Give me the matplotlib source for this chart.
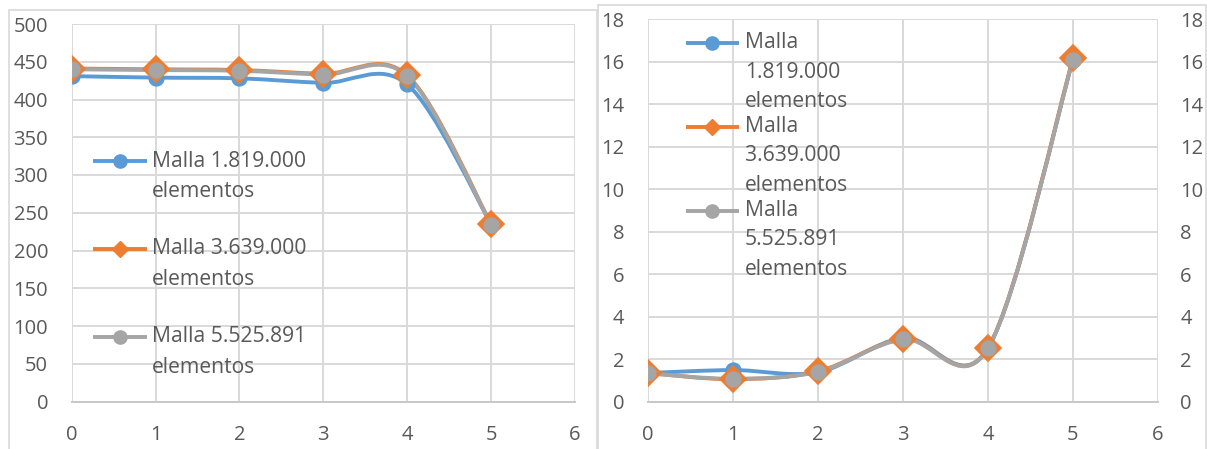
import numpy as np
import matplotlib.pyplot as plt
from matplotlib.path import Path
from matplotlib.patches import PathPatch, Rectangle

plt.rcParams['font.family'] = ['Open Sans', 'DejaVu Sans']

# data
x = [0, 1, 2, 3, 4, 5]

left_1819 = [431, 429, 428, 422, 420, 235]
left_3639 = [441, 440, 439, 434, 432, 235]
left_5525 = [440, 439, 438, 433, 431, 234]

right_1819 = [1.34, 1.48, 1.38, 3.00, 2.52, 16.10]
right_3639 = [1.34, 1.05, 1.42, 2.95, 2.52, 16.15]
right_5525 = [1.33, 1.07, 1.40, 2.93, 2.50, 16.10]

left_labels = [['Malla 1.819.000', 'elementos'],
               ['Malla 3.639.000', 'elementos'],
               ['Malla 5.525.891', 'elementos']]
right_labels = [['Malla', '1.819.000', 'elementos'],
                ['Malla', '3.639.000', 'elementos'],
                ['Malla', '5.525.891', 'elementos']]

colors = ['#5B9BD5', '#ED7D31', '#A5A5A5']
markers = ['o', 'D', 'o']
msize = [10.5, 13, 10.5]
leg_msize = [9.5, 8, 9.5]
txt = '#595959'
grid = '#D9D9D9'
fs = 14.5
leg_fs = 15.2


def smooth_path(xs, ys):
    # excel-like smoothed line: bezier segments with catmull-rom control points
    p = np.column_stack([xs, ys]).astype(float)
    pts = np.vstack([p[0], p, p[-1]])
    verts = [p[0]]
    codes = [Path.MOVETO]
    for i in range(len(p) - 1):
        p0, p1, p2, p3 = pts[i], pts[i + 1], pts[i + 2], pts[i + 3]
        verts += [p1 + (p2 - p0) / 6, p2 - (p3 - p1) / 6, p2]
        codes += [Path.CURVE4] * 3
    return Path(verts, codes)


def draw_series(ax, series):
    for ys, c, m, ms in zip(series, colors, markers, msize):
        ax.add_patch(PathPatch(smooth_path(x, ys), fill=False, ec=c, lw=2.8,
                               capstyle='round', joinstyle='round'))
        ax.plot(x, ys, ls='none', marker=m, ms=ms, mfc=c, mec=c, mew=1.2)


def style_axes(ax, ymax, ystep):
    ax.set_xlim(0, 6)
    ax.set_ylim(0, ymax)
    ax.set_xticks(range(7))
    ax.set_yticks(np.arange(0, ymax + ystep / 2, ystep))
    ax.grid(True, color=grid, lw=1.4)
    ax.set_axisbelow(True)
    for s in ['top', 'right', 'left']:
        ax.spines[s].set_visible(False)
    ax.spines['bottom'].set_color('#C8C8C8')
    ax.spines['bottom'].set_linewidth(1.4)
    ax.tick_params(axis='x', length=0, pad=17, labelsize=fs, labelcolor=txt)
    ax.tick_params(axis='y', length=0, pad=17, labelsize=fs, labelcolor=txt)


def draw_legend(ax, labels, ys, x0, x1, xt, dy):
    for lab, y, c, m, ms in zip(labels, ys, colors, markers, leg_msize):
        ax.plot([x0, x1], [y, y], color=c, lw=2.8, transform=ax.transAxes,
                clip_on=False, solid_capstyle='butt')
        ax.plot([(x0 + x1) / 2], [y], marker=m, ms=ms, mfc=c, mec=c,
                transform=ax.transAxes, clip_on=False)
        for k, line in enumerate(lab):
            ax.text(xt, y - k * dy, line, transform=ax.transAxes, fontsize=leg_fs,
                    color=txt, va='center', ha='left')


fig = plt.figure(figsize=(12.07, 4.49), dpi=100)

# panel frames
fig.add_artist(Rectangle((9 / 1207, -0.05), 588 / 1207, 1.0288,
                         transform=fig.transFigure, fill=False, ec=grid, lw=1.2))
fig.add_artist(Rectangle((598 / 1207, -0.05), 608 / 1207, 1.0378,
                         transform=fig.transFigure, fill=False, ec=grid, lw=1.2))

# left chart
ax1 = fig.add_axes([71.7 / 1207, 1 - 401.5 / 449, 503.3 / 1207, 377.5 / 449])
style_axes(ax1, 500, 50)
draw_series(ax1, [left_1819, left_3639, left_5525])
draw_legend(ax1, left_labels, [0.637, 0.405, 0.171], 0.042, 0.150, 0.160, 0.082)

# right chart
ax2 = fig.add_axes([648 / 1207, 1 - 401.5 / 449, 510 / 1207, 382.3 / 449])
style_axes(ax2, 18, 2)
draw_series(ax2, [right_1819, right_3639, right_5525])
draw_legend(ax2, right_labels, [0.938, 0.719, 0.499], 0.0745, 0.178, 0.190, 0.0765)

ax3 = ax2.twinx()
ax3.set_ylim(0, 18)
ax3.set_yticks(np.arange(0, 19, 2))
for s in ax3.spines.values():
    s.set_visible(False)
ax3.tick_params(axis='y', length=0, pad=16, labelsize=fs, labelcolor=txt)

fig.savefig('out.png', dpi=100)
